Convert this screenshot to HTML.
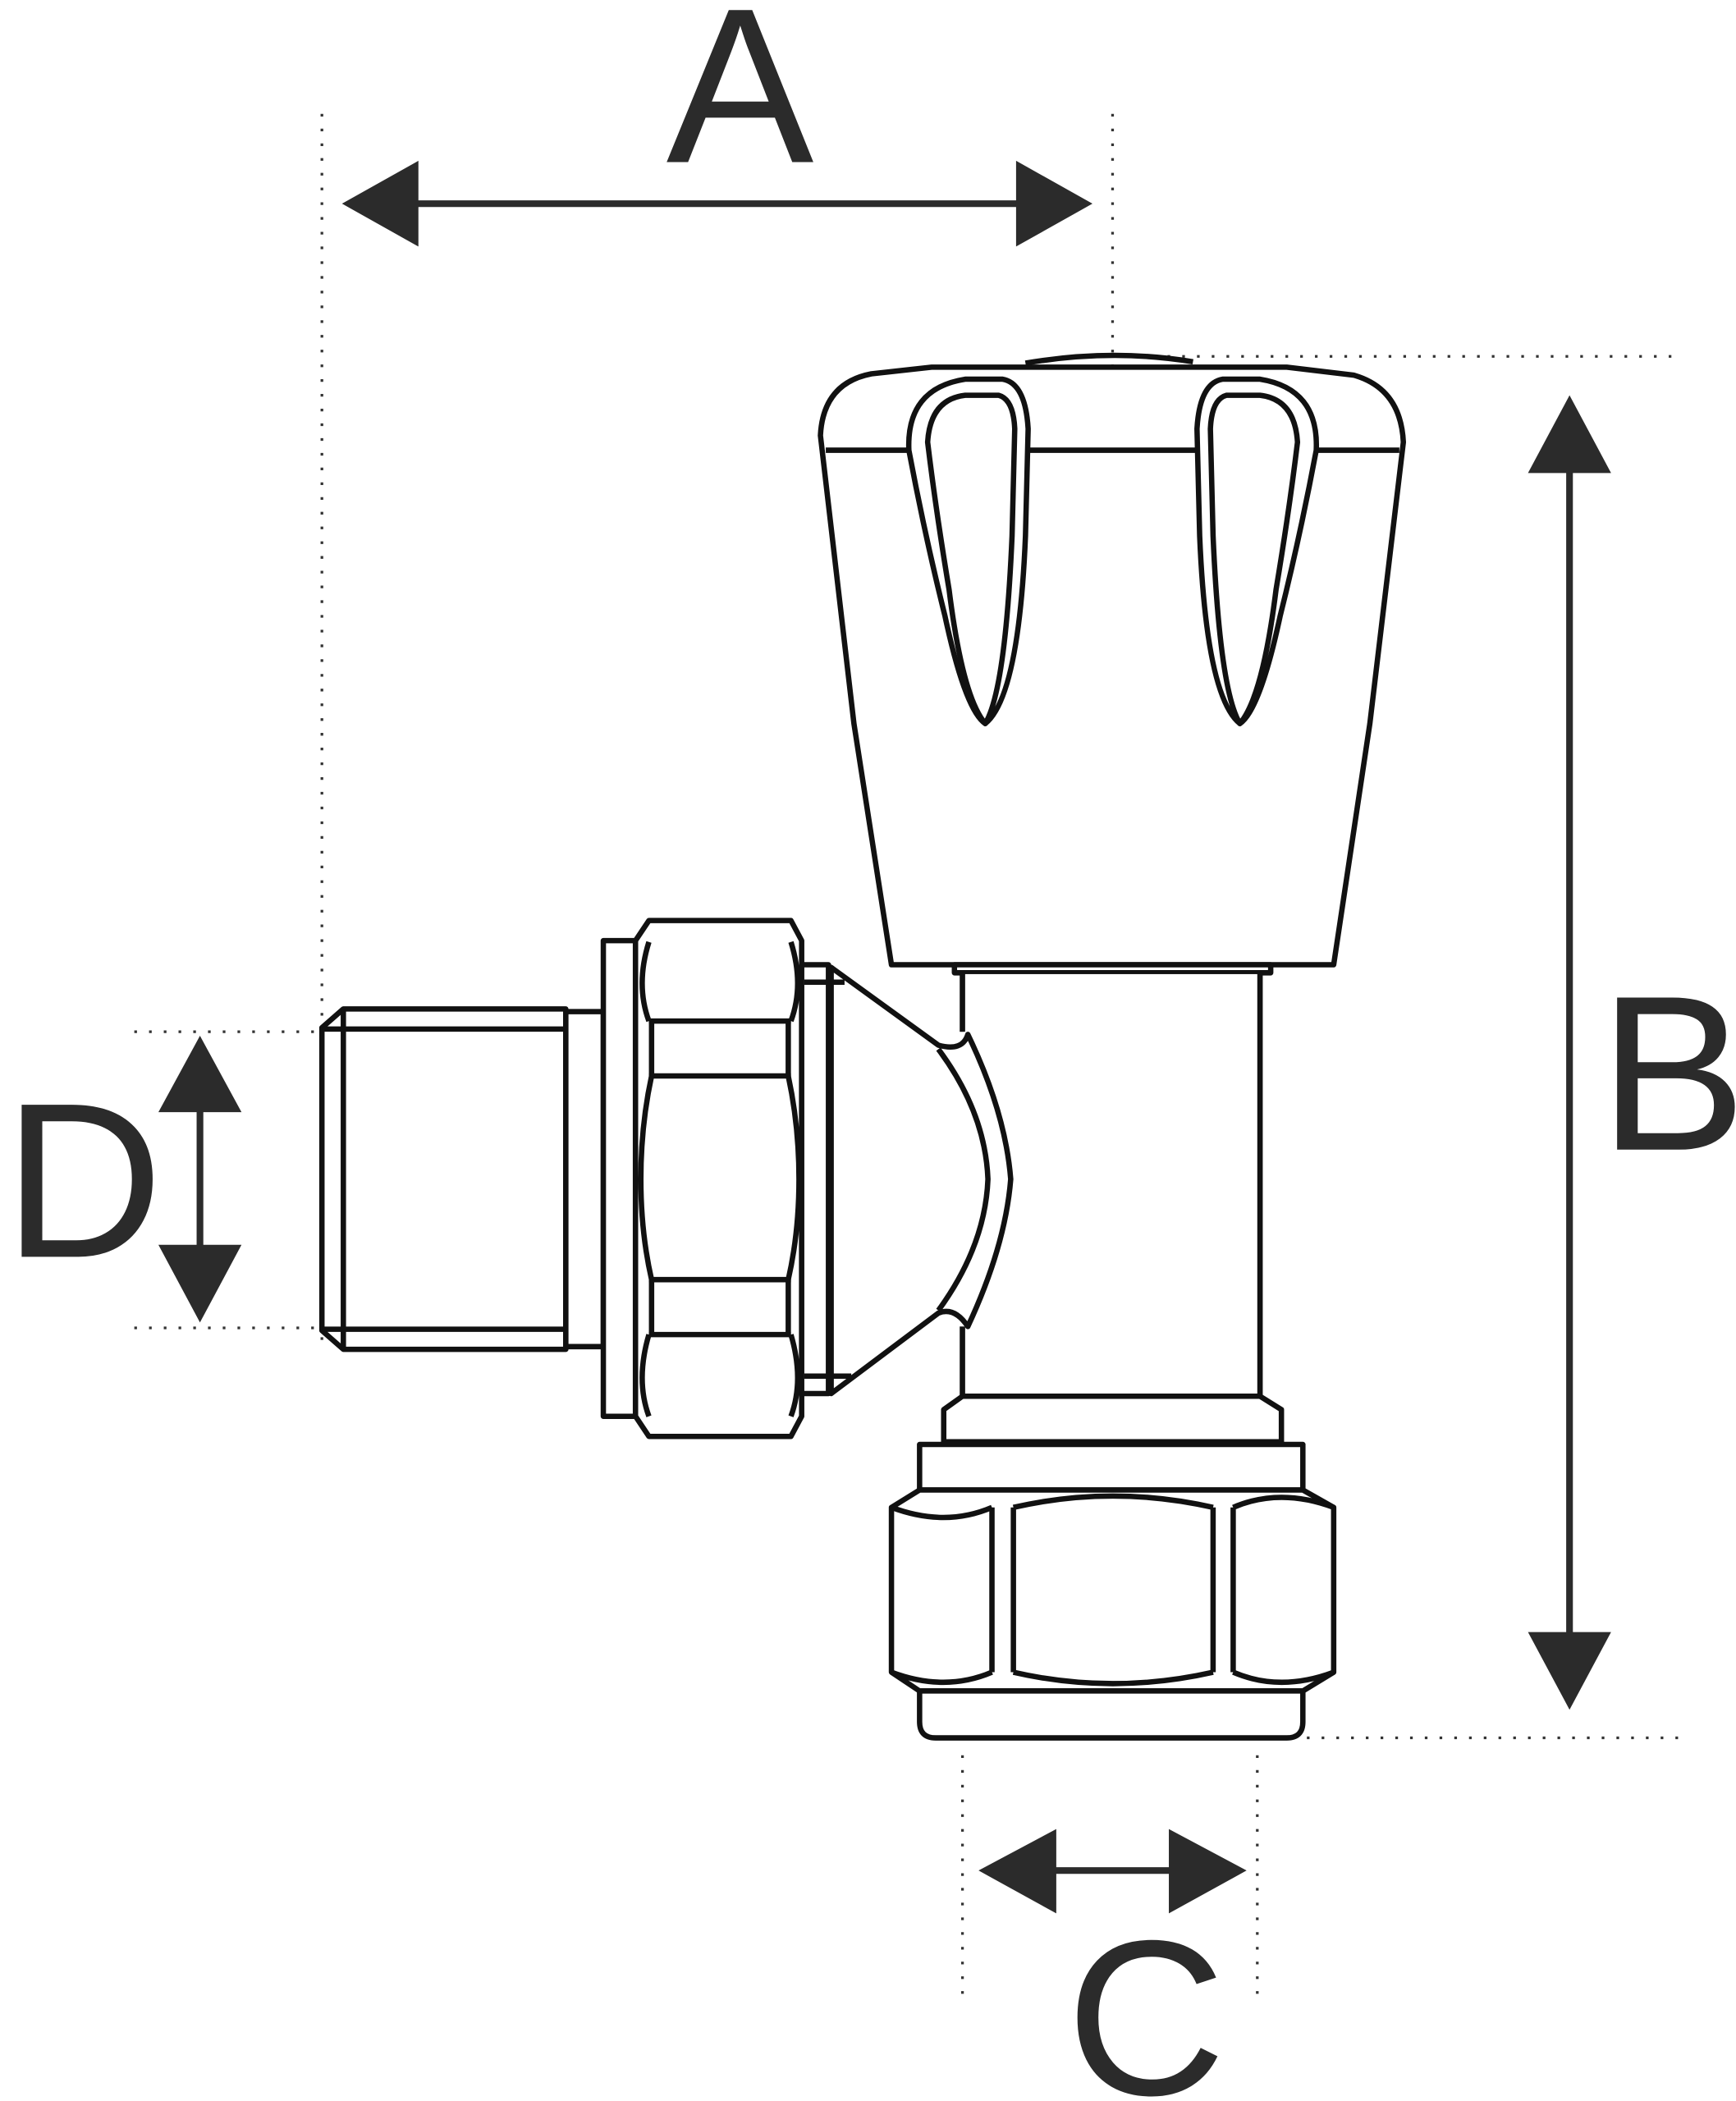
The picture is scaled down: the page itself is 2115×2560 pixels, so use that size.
<!DOCTYPE html>
<html><head><meta charset="utf-8"><style>
html,body{margin:0;padding:0;background:#fff;}
svg{display:block;}
</style></head><body>
<svg width="2115" height="2560" viewBox="0 0 1295 1568" xmlns="http://www.w3.org/2000/svg">
<rect width="1295" height="1568" fill="#fff"/>
<g stroke="#333" stroke-width="2" stroke-dasharray="2 9" fill="none">
<line x1="240" y1="85" x2="240" y2="1000"/>
<line x1="830" y1="85" x2="830" y2="1000"/>
<line x1="860" y1="266" x2="1255" y2="266"/>
<line x1="975" y1="1297" x2="1255" y2="1297"/>
<line x1="100" y1="770" x2="250" y2="770"/>
<line x1="100" y1="991" x2="250" y2="991"/>
<line x1="718" y1="1310" x2="718" y2="1490"/>
<line x1="938" y1="1310" x2="938" y2="1490"/>
</g>
<g fill="#2b2b2b" stroke="#2b2b2b" stroke-width="5">
<line x1="300" y1="152" x2="770" y2="152"/>
<polygon points="255,152 312,120 312,184" stroke="none"/>
<polygon points="815,152 758,120 758,184" stroke="none"/>
<line x1="1171" y1="330" x2="1171" y2="1240"/>
<polygon points="1171,295 1140,353 1202,353" stroke="none"/>
<polygon points="1171,1276 1140,1218 1202,1218" stroke="none"/>
<line x1="760" y1="1396" x2="900" y2="1396"/>
<polygon points="730,1396 788,1365 788,1428" stroke="none"/>
<polygon points="930,1396 872,1365 872,1428" stroke="none"/>
<line x1="149" y1="810" x2="149" y2="950"/>
<polygon points="149,773 118,830 180,830" stroke="none"/>
<polygon points="149,987 118,929 180,929" stroke="none"/>
</g>
<g fill="#2b2b2b" font-family="Liberation Sans, sans-serif" font-size="165" text-anchor="middle">
<text x="552" y="121">A</text>
<text x="1248" y="858">B</text>
<text x="855" y="1563">C</text>
<text x="62" y="938">D</text>
</g>
<g stroke="#111" stroke-width="4" fill="#fff" stroke-linejoin="round">
<!-- handle -->
<path d="M612,325 Q614,286 650,279 L695,274 L960,274 L1010,280 Q1045,290 1047,330 L1022,540 L995,720 L665,720 L637,540 Z"/>
<path d="M765,271 Q830,260 890,270" fill="none"/>
<line x1="616" y1="336" x2="1044" y2="336"/>
<g id="groove">
<path d="M678,336 Q676,290 720,283 L748,283 Q765,286 767,320 L765,400 Q760,520 735,540 Q720,530 705,460 Q690,400 678,336 Z"/>
<path d="M692,330 Q694,298 720,295 L745,295 Q756,298 757,320 L755,400 Q750,515 735,540 Q718,520 708,440 Q698,380 692,330 Z"/>
</g>
<use href="#groove" transform="translate(1660,0) scale(-1,1)"/>
<!-- stem -->
<rect x="712" y="720" width="236" height="6"/>
<path d="M718,726 L718,770 M718,990 L718,1042 L940,1042 L940,726" fill="none"/>
<rect x="719" y="727" width="220" height="314" stroke="none"/>
<path d="M718,726 L718,770 M718,990 L718,1042 M940,726 L940,1042" fill="none"/>
<!-- elbow body -->
<path d="M620,722 L700,780 Q718,785 722,772 Q750,830 754,880 Q750,930 722,990 Q712,975 700,980 L620,1040 Z"/>
<path d="M700,783 Q735,830 737,880 Q735,930 700,978" fill="none"/>
<!-- male thread -->
<path d="M256,753 L422,753 L422,1007 L256,1007 L240,993 L240,767 Z"/>
<path d="M256,753 L256,1007 M240,768 L422,768 M240,992 L422,992" fill="none"/>
<rect x="422" y="755" width="28" height="250"/>
<rect x="450" y="702" width="24" height="355"/>
<!-- hex nut -->
<path d="M484,687 L590,687 L598,702 L598,1057 L590,1072 L484,1072 L474,1057 L474,702 Z"/>
<path d="M484,762 L590,762 M484,803 L590,803 M484,955 L590,955 M484,996 L590,996" fill="none"/>
<path d="M486,762 L486,803 M588,762 L588,803 M486,955 L486,996 M588,955 L588,996" fill="none"/>
<path d="M486,803 Q478,840 478,880 Q478,920 486,955 M588,803 Q596,840 596,880 Q596,920 588,955" fill="none"/>
<path d="M484,762 Q474,735 484,703 M590,762 Q600,735 590,703 M484,996 Q474,1030 484,1057 M590,996 Q600,1030 590,1057" fill="none"/>
<rect x="598" y="720" width="20" height="320"/>
<path d="M600,733 L630,733 M600,1027 L635,1027" fill="none"/>
<!-- bottom -->
<path d="M704,1052 L718,1042 L940,1042 L956,1052 L956,1076 L704,1076 Z"/>
<rect x="686" y="1078" width="286" height="34"/>
<path d="M665,1125 L686,1112 L972,1112 L995,1125 L995,1248 L972,1262 L686,1262 L665,1248 Z"/>
<path d="M740,1125 L740,1248 M756,1125 L756,1248 M905,1125 L905,1248 M920,1125 L920,1248" fill="none"/>
<path d="M665,1125 Q705,1140 740,1125 M756,1125 Q830,1108 905,1125 M920,1125 Q955,1110 995,1125" fill="none"/>
<path d="M665,1248 Q705,1263 740,1248 M756,1248 Q830,1265 905,1248 M920,1248 Q955,1263 995,1248" fill="none"/>
<path d="M686,1262 L972,1262 L972,1285 Q972,1297 960,1297 L698,1297 Q686,1297 686,1285 Z"/>
</g>
</svg>
</body></html>
